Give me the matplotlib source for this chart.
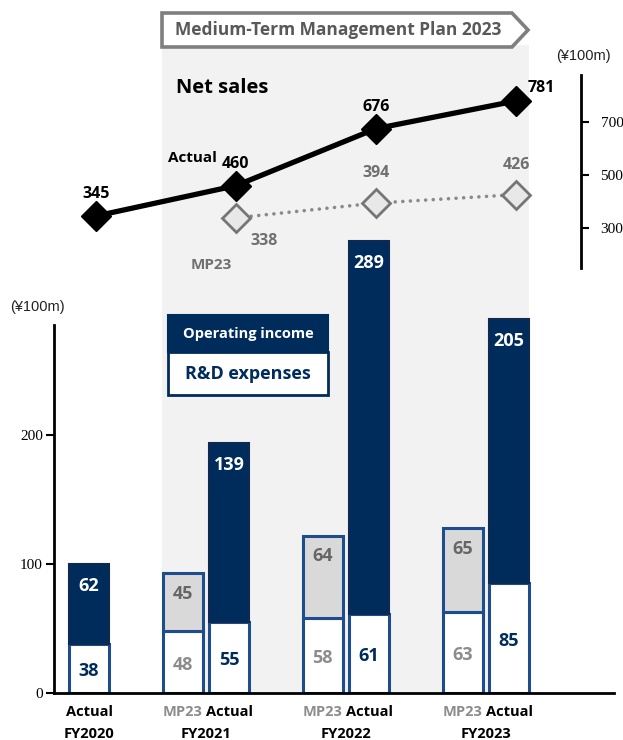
import numpy as np
import matplotlib
matplotlib.use('Agg')
import matplotlib.pyplot as plt
from matplotlib.patches import Polygon, Rectangle

plt.rcParams['font.family'] = ['Open Sans', 'DejaVu Sans']

# net sales (right axis), FY2020-FY2023 actual, FY2021-FY2023 plan
years = ['FY2020', 'FY2021', 'FY2022', 'FY2023']
sales_actual = [345, 460, 676, 781]
sales_mp23 = [338, 394, 426]

# stacked bars: R&D expenses at the bottom, operating income on top
rd_actual = [38, 55, 61, 85]
oi_actual = [62, 139, 289, 205]
rd_mp23 = [48, 58, 63]
oi_mp23 = [45, 64, 65]

left_ticks = [0, 100, 200]
right_ticks = [300, 500, 700]

NAVY = '#002c5c'
EDGE = '#1d4d8c'
PLAN_FILL = '#d9d9d9'
BG = '#f2f2f2'
W, H = 623, 740


def fpx(x, y):
    # pixel position -> figure fraction
    return (x / W, 1 - y / H)


fig = plt.figure(figsize=(W / 100, H / 100), dpi=100)
ax = fig.add_axes([54 / W, 47 / H, 560 / W, 648 / H])
ax.set_xlim(-0.25, 3.75)
ax.set_ylim(0, 648 / 1.29)
ax.patch.set_alpha(0)

x_act = np.arange(len(years))
x_mp = x_act[1:] - 0.33
bw = 0.285

# plan period shading
ax.axvspan(0.52, 3.14, color=BG, zorder=0, lw=0)

ax.bar(x_act, rd_actual, width=bw, color='white', edgecolor=EDGE, lw=2.2, zorder=3)
ax.bar(x_act, oi_actual, width=bw, bottom=rd_actual, color=NAVY, edgecolor='#0f2a50', lw=1.5, zorder=3)
ax.bar(x_mp, rd_mp23, width=bw, color='white', edgecolor=EDGE, lw=2.2, zorder=3)
ax.bar(x_mp, oi_mp23, width=bw, bottom=rd_mp23, color=PLAN_FILL, edgecolor=EDGE, lw=2.2, zorder=3)

for x, rd, oi in zip(x_act, rd_actual, oi_actual):
    ax.text(x, rd / 2 - 2, str(rd), ha='center', va='center', color=NAVY, fontsize=13, fontweight='bold', zorder=4)
    ax.text(x, rd + oi - 17, str(oi), ha='center', va='center', color='white', fontsize=13, fontweight='bold', zorder=4)
for x, rd, oi in zip(x_mp, rd_mp23, oi_mp23):
    ax.text(x, rd / 2 - 2, str(rd), ha='center', va='center', color='#8c8c8c', fontsize=13, fontweight='bold', zorder=4)
    ax.text(x, rd + oi - 16, str(oi), ha='center', va='center', color='#666666', fontsize=13, fontweight='bold', zorder=4)

for side in ['top', 'right']:
    ax.spines[side].set_visible(False)
ax.spines['left'].set_bounds(0, 285)
ax.spines['left'].set_linewidth(2)
ax.spines['bottom'].set_linewidth(2)
ax.spines['bottom'].set_zorder(5)
ax.set_yticks(left_ticks)
ax.set_xticks([])
ax.tick_params(axis='y', direction='out', length=6, width=1.5, pad=2,
               labelsize=11, labelfontfamily='Liberation Serif')

# category labels under the axis
for x in x_act:
    ax.annotate('Actual', xy=(x, 0), xycoords=('data', 'axes fraction'), xytext=(0, -19),
                textcoords='offset pixels', ha='center', va='center', fontsize=10.5, fontweight='bold')
for x in x_mp:
    ax.annotate('MP23', xy=(x, 0), xycoords=('data', 'axes fraction'), xytext=(0, -19),
                textcoords='offset pixels', ha='center', va='center', fontsize=10.5, fontweight='bold',
                color='#8c8c8c')
year_pos = [0] + list(x_act[1:] - 0.165)
for x, yr in zip(year_pos, years):
    ax.annotate(yr, xy=(x, 0), xycoords=('data', 'axes fraction'), xytext=(0, -41),
                textcoords='offset pixels', ha='center', va='center', fontsize=10.5, fontweight='bold')

# net sales line on its own scale
ax2 = ax.twinx()
ax2.set_ylim(345 - (693 - 216) / 0.264, 345 + (216 - 45) / 0.264)
x_line = x_act + 0.05
ax2.plot(x_line[1:], sales_mp23, color='#8a8a8a', lw=2.6, ls=(0, (0.01, 2.1)),
         dash_capstyle='round', marker='D', ms=14, mfc='#e8e8e8', mec='#767676', mew=2, zorder=4)
ax2.plot(x_line, sales_actual, color='black', lw=3.8, marker='D', ms=15, zorder=5)

for side in ['top', 'left', 'bottom']:
    ax2.spines[side].set_visible(False)
ax2.spines['right'].set_position(('data', 3.515))
ax2.spines['right'].set_bounds(148, 879)
ax2.spines['right'].set_linewidth(2)
ax2.set_yticks(right_ticks)
ax2.tick_params(axis='y', direction='out', length=6, width=1.5, pad=8,
                labelsize=11, labelfontfamily='Liberation Serif')

for x, v in zip(x_line, sales_actual):
    off = (25, 13) if v == sales_actual[-1] else (0, 22)
    ax2.annotate(str(v), xy=(x, v), xytext=off, textcoords='offset pixels',
                 ha='center', va='center', fontsize=11.5, fontweight='bold')
ax2.annotate('Actual', xy=(x_line[1], sales_actual[1]), xytext=(-44, 28), textcoords='offset pixels',
             ha='center', va='center', fontsize=11, fontweight='bold')
for i, (x, v) in enumerate(zip(x_line[1:], sales_mp23)):
    off = (28, -23) if i == 0 else (0, 30)
    ax2.annotate(str(v), xy=(x, v), xytext=off, textcoords='offset pixels',
                 ha='center', va='center', fontsize=11.5, fontweight='bold', color='#707070')
ax2.annotate('MP23', xy=(x_line[1], sales_mp23[0]), xytext=(-25, -47), textcoords='offset pixels',
             ha='center', va='center', fontsize=11, fontweight='bold', color='#707070')

# titles, units and plan banner
fig.text(*fpx(222, 88), 'Net sales', ha='center', va='center', fontsize=14.5, fontweight='bold')
fig.text(*fpx(37, 307), '(¥100m)', ha='center', va='center', fontsize=10.5,
         family='Liberation Sans', color='#222222')
fig.text(*fpx(583, 56), '(¥100m)', ha='center', va='center', fontsize=10.5,
         family='Liberation Sans', color='#222222')

banner = Polygon([fpx(162, 13), fpx(512, 13), fpx(528, 30), fpx(512, 47), fpx(162, 47)],
                 closed=True, transform=fig.transFigure, facecolor='white',
                 edgecolor='#7f7f7f', lw=2.6, joinstyle='miter')
fig.patches.append(banner)
fig.text(*fpx(338, 30), 'Medium-Term Management Plan 2023', ha='center', va='center',
         fontsize=12.5, fontweight='bold', color='#595959')

# legend blocks
x0, y0 = fpx(168, 352)
fig.patches.append(Rectangle((x0, y0), 160 / W, 37 / H, transform=fig.transFigure,
                             facecolor=NAVY, edgecolor=NAVY, lw=1.5))
x1, y1 = fpx(168, 395)
fig.patches.append(Rectangle((x1, y1), 160 / W, 43 / H, transform=fig.transFigure,
                             facecolor='white', edgecolor=NAVY, lw=2))
fig.text(*fpx(248, 334), 'Operating income', ha='center', va='center', fontsize=10.5,
         fontweight='bold', color='white')
fig.text(*fpx(248, 374), 'R&D expenses', ha='center', va='center', fontsize=13,
         fontweight='bold', color=NAVY)

fig.savefig('out.png', dpi=100)
